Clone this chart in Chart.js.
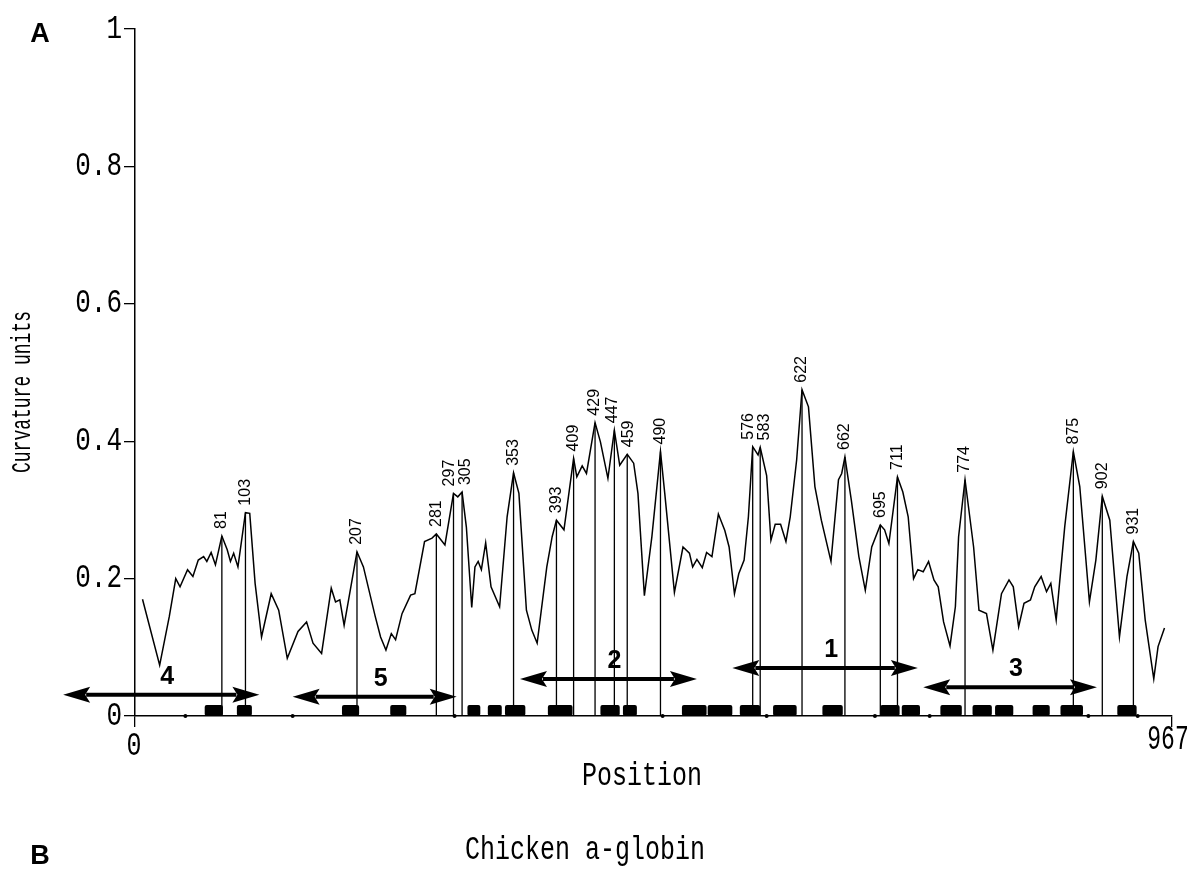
<!DOCTYPE html>
<html><head><meta charset="utf-8">
<script src="https://cdn.jsdelivr.net/npm/chart.js@4.4.0/dist/chart.umd.min.js"></script>
<style>html,body{margin:0;padding:0;background:#fff}#wrap{width:1194px;height:871px;position:relative}</style>
</head><body><div id="wrap"><canvas id="c"></canvas></div>
<script>
// ---- data ----
const curvePos = [7,23,32,38,42,49,54,59,64,67,71,75,81,86,89,92,96,103,107,112,118,127,134,142,152,160,166,174,183,187,191,195,207,213,224,229,234,239,243,249,257,261,270,277,281,289,297,301,305,309,314,317,320,323,327,332,340,347,353,358,365,370,375,384,389,393,400,409,412,417,421,429,434,441,447,452,459,465,469,475,482,490,494,503,511,517,520,524,529,533,538,544,550,554,559,563,568,572,576,581,583,589,593,597,602,607,611,617,622,628,634,640,649,656,659,662,668,675,681,687,695,699,703,711,716,721,726,730,735,740,745,749,754,760,765,768,774,782,787,794,800,808,815,819,824,829,835,839,845,850,854,859,867,875,881,890,896,902,909,918,925,931,936,942,950,954,960];
const curveVal = [0.170,0.074,0.145,0.200,0.188,0.213,0.203,0.227,0.232,0.225,0.238,0.220,0.262,0.242,0.225,0.237,0.217,0.296,0.295,0.193,0.115,0.178,0.154,0.084,0.123,0.137,0.106,0.091,0.186,0.166,0.169,0.132,0.239,0.217,0.145,0.115,0.096,0.120,0.111,0.149,0.176,0.178,0.254,0.259,0.265,0.249,0.324,0.319,0.326,0.275,0.158,0.217,0.225,0.213,0.252,0.188,0.159,0.290,0.354,0.324,0.154,0.125,0.106,0.217,0.261,0.285,0.271,0.375,0.348,0.364,0.353,0.427,0.399,0.346,0.416,0.365,0.381,0.368,0.324,0.175,0.261,0.385,0.324,0.180,0.246,0.237,0.217,0.228,0.216,0.238,0.232,0.294,0.270,0.246,0.178,0.207,0.227,0.290,0.392,0.380,0.391,0.350,0.256,0.279,0.279,0.254,0.290,0.373,0.475,0.450,0.334,0.285,0.225,0.344,0.353,0.377,0.314,0.232,0.183,0.246,0.278,0.271,0.251,0.348,0.326,0.290,0.200,0.213,0.210,0.225,0.198,0.188,0.137,0.102,0.159,0.261,0.344,0.246,0.154,0.149,0.096,0.178,0.198,0.188,0.130,0.164,0.169,0.188,0.203,0.181,0.193,0.140,0.276,0.385,0.334,0.166,0.227,0.320,0.285,0.115,0.203,0.254,0.237,0.140,0.054,0.101,0.128];

const peakPos = [81,103,207,281,297,305,353,393,409,429,447,459,490,576,583,622,662,695,711,774,875,902,931];
const peakVal = [0.262,0.296,0.239,0.265,0.324,0.326,0.354,0.285,0.375,0.427,0.416,0.381,0.385,0.392,0.391,0.475,0.377,0.278,0.348,0.344,0.385,0.320,0.254];

const arrowLabels = ['4','5','2','1','3'];
const arrowFrom   = [-67,147,359,557,735];
const arrowTo     = [116,300,524,730,897];
const arrowLevel  = [0.031,0.028,0.054,0.070,0.042];

const blockStart = [65,95,193,238,310,329,345,385,434,455,510,534,564,595,641,695,715,751,781,802,837,863,916];
const blockEnd   = [82,109,209,253,322,342,364,408,452,468,533,557,583,617,660,713,732,771,799,819,853,884,934];
const axisDots   = [47,147,298,492,589,690,741,889,935];

const yTicks = [0,0.2,0.4,0.6,0.8,1];
const xTicks = [0,967];
const yTitle = 'Curvature units';
const xTitle = 'Position';
const caption = 'Chicken a-globin';
const panelA = 'A', panelB = 'B';

// ---- datasets built from arrays ----
const curveData = curvePos.map((p,i)=>({x:p,y:curveVal[i]}));
const stemData = [];
peakPos.forEach((p,i)=>{ stemData.push({x:p,y:0},{x:p,y:peakVal[i]},{x:p,y:null}); });

const MONO = '"Liberation Mono", "DejaVu Sans Mono", monospace';
const SANS = '"Liberation Sans", Arial, sans-serif';

function stretchText(ctx, text, x, y, o){
  ctx.save();
  ctx.translate(x,y);
  if (o.rot) ctx.rotate(o.rot);
  ctx.scale(1, o.sy||1);
  ctx.font = o.font;
  ctx.fillStyle = '#000';
  ctx.textAlign = o.align||'center';
  ctx.textBaseline = o.base||'middle';
  ctx.fillText(text,0,0);
  ctx.restore();
}

const decor = {
  id:'decor',
  afterDatasetsDraw(chart){
    const ctx = chart.ctx, xs = chart.scales.x, ys = chart.scales.y;
    const y0 = ys.getPixelForValue(0);
    // blocks on axis
    ctx.save();
    ctx.fillStyle = '#000';
    blockStart.forEach((s,i)=>{
      const a = xs.getPixelForValue(s), b = xs.getPixelForValue(blockEnd[i]);
      ctx.beginPath();
      ctx.roundRect(a, y0-11, b-a, 11, 2);
      ctx.fill();
    });
    axisDots.forEach(d=>{
      ctx.beginPath(); ctx.arc(xs.getPixelForValue(d), y0, 2, 0, Math.PI*2); ctx.fill();
    });
    ctx.restore();

    // arrows
    ctx.save();
    ctx.fillStyle = '#000'; ctx.strokeStyle = '#000';
    arrowFrom.forEach((f,i)=>{
      const a = xs.getPixelForValue(f), b = xs.getPixelForValue(arrowTo[i]);
      const y = ys.getPixelForValue(arrowLevel[i]);
      const L = 27, H = 8;
      ctx.lineWidth = 4;
      ctx.beginPath(); ctx.moveTo(a+L-4,y); ctx.lineTo(b-L+4,y); ctx.stroke();
      ctx.beginPath(); ctx.moveTo(a,y); ctx.lineTo(a+L,y-H); ctx.lineTo(a+L-5,y); ctx.lineTo(a+L,y+H); ctx.closePath(); ctx.fill();
      ctx.beginPath(); ctx.moveTo(b,y); ctx.lineTo(b-L,y-H); ctx.lineTo(b-L+5,y); ctx.lineTo(b-L,y+H); ctx.closePath(); ctx.fill();
      stretchText(ctx, arrowLabels[i], (a+b)/2+6, y-18, {font:'bold 25px '+SANS});
    });
    ctx.restore();

    // peak labels (rotated), nudged apart when too close
    const px = peakPos.map(p=>xs.getPixelForValue(p));
    const lx = px.slice();
    for (let i=0;i<lx.length-1;i++){
      const d = lx[i+1]-lx[i];
      if (d < 16){ const s=(16-d)/2; lx[i]-=s; lx[i+1]+=s; }
    }
    peakPos.forEach((p,i)=>{
      const y = ys.getPixelForValue(peakVal[i]) - 7;
      stretchText(ctx, String(p), lx[i], y, {font:'16px '+SANS, rot:-Math.PI/2, align:'left'});
    });

    // axis tick labels
    yTicks.forEach(v=>{
      const t = (v===0||v===1) ? String(v) : v.toFixed(1);
      stretchText(ctx, t, 122, ys.getPixelForValue(v), {font:'26px '+MONO, sy:1.25, align:'right'});
    });
    stretchText(ctx, String(xTicks[0]), xs.getPixelForValue(xTicks[0])-1, 746, {font:'25px '+MONO, sy:1.3});
    stretchText(ctx, String(xTicks[1]), xs.getPixelForValue(xTicks[1])-4, 740, {font:'23px '+MONO, sy:1.5});

    // titles
    stretchText(ctx, yTitle, 23, 392, {font:'18px '+MONO, sy:1.55, rot:-Math.PI/2});
    stretchText(ctx, xTitle, 642, 776, {font:'25px '+MONO, sy:1.35});
    stretchText(ctx, caption, 585, 850, {font:'25px '+MONO, sy:1.35});
    stretchText(ctx, panelA, 40, 35, {font:'bold 27px '+SANS});
    stretchText(ctx, panelB, 40, 857, {font:'bold 27px '+SANS});
  }
};

new Chart(document.getElementById('c'), {
  type:'line',
  data:{ datasets:[
    { label:'Curvature', data:curveData, borderColor:'#000', borderWidth:1.5, pointRadius:0, tension:0, fill:false },
    { label:'Peaks', data:stemData, borderColor:'#000', borderWidth:1.3, pointRadius:0, spanGaps:false, fill:false }
  ]},
  options:{
    responsive:true, maintainAspectRatio:false, animation:false,
    devicePixelRatio:1,
    layout:{ padding:{ top:29, right:22, left:0, bottom:0 } },
    plugins:{ legend:{display:false}, tooltip:{enabled:false} },
    scales:{
      x:{ type:'linear', min:0, max:967,
          afterBuildTicks(s){ s.ticks = xTicks.map(v=>({value:v})); },
          afterFit(s){ s.height = 155; },
          ticks:{ display:false },
          grid:{ drawOnChartArea:false, drawTicks:true, tickLength:11, color:'#000', lineWidth:1.3 },
          border:{ display:true, color:'#000', width:1.5 } },
      y:{ min:0, max:1,
          afterBuildTicks(s){ s.ticks = yTicks.map(v=>({value:v})); },
          afterFit(s){ s.width = 135; },
          ticks:{ display:false },
          grid:{ drawOnChartArea:false, drawTicks:true, tickLength:11, color:'#000', lineWidth:1.3 },
          border:{ display:true, color:'#000', width:1.5 } }
    }
  },
  plugins:[decor]
});
</script></body></html>
